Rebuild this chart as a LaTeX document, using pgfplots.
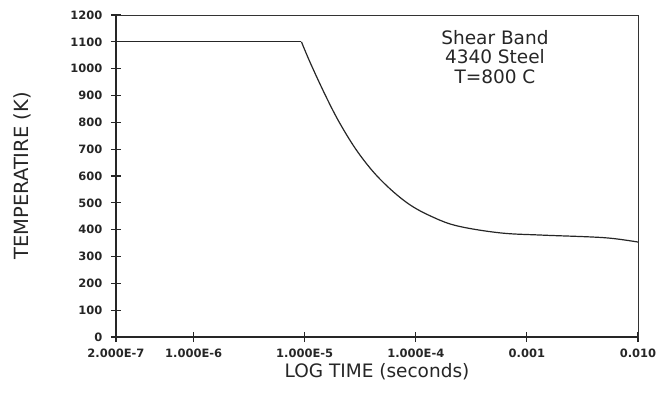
\documentclass[border=0pt]{standalone}
\usepackage{fontspec}
\setmainfont{DejaVu Sans}
\usepackage{pgfplots}
\pgfplotsset{compat=1.18}

\begin{document}
\begin{tikzpicture}
\begin{axis}[
    scale only axis,
    width=522pt, height=322pt,
    xmode=log,
    xmin=2e-7, xmax=1e-2,
    ymin=0, ymax=1200,
    xtick={2e-7,1e-6,1e-5,1e-4,1e-3,1e-2},
    xticklabels={2.000E-7,1.000E-6,1.000E-5,1.000E-4,0.001,0.010},
    ytick={0,100,...,1200},
    minor xtick={},
    tick pos=left,
    tick align=center,
    major tick length=10pt,
    every tick/.style={black!85, line width=1.1pt},
    axis line style={black!80, line width=0.8pt},
    /pgf/number format/assume math mode=true,
    /pgf/number format/1000 sep={},
    ticklabel style={font=\fontsize{11.5}{12}\selectfont\bfseries, black!85},
    xticklabel style={yshift=-3pt},
    yticklabel style={xshift=-5pt},
    xlabel={LOG TIME (seconds)},
    ylabel={TEMPERATIRE (K)},
    label style={font=\fontsize{18.5}{20}\selectfont, black!85},
    xlabel style={at={(axis description cs:0.5,-0.109)}, anchor=center},
    ylabel style={at={(axis description cs:-0.180,0.5)}, anchor=center, font=\fontsize{19.5}{20}\selectfont},
    clip=false,
]
\draw[black!85, line width=1.6pt] (rel axis cs:0,1) -- (rel axis cs:0,0) -- (rel axis cs:1,0);
\addplot[black!85, line width=1.2pt] coordinates {
    (2e-7,1100) (9.34e-6,1100)
};
\addplot[black!85, line width=1.2pt, smooth, tension=0.6] coordinates {
    (9.34e-6,1100)
    (1.13e-5,1019)
    (1.55e-5,897)
    (2.10e-5,792)
    (3.08e-5,683)
    (4.82e-5,586)
    (8.41e-5,499)
    (1.44e-4,446)
    (2.42e-4,413)
    (5.76e-4,388)
    (1.32e-3,380)
    (3.71e-3,373)
    (6.0e-3,367)
    (1e-2,354)
};
\node[align=center, font=\fontsize{18.5}{19.5}\selectfont, black!85]
    at (rel axis cs:0.726,0.870) {Shear Band\\4340 Steel\\T=800 C};
\end{axis}
\path (current axis.south west) ++(-116pt,-68pt);
\path (current axis.north east) ++(28pt,15pt);
\end{tikzpicture}
\end{document}
